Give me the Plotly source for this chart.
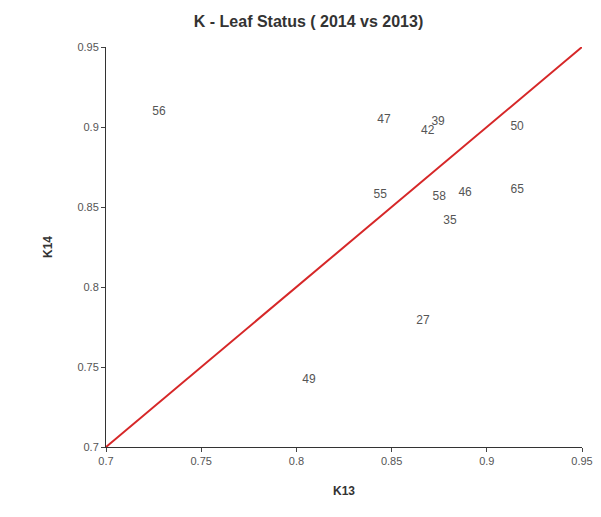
import plotly.graph_objects as go

labels = ["56", "47", "39", "42", "50", "55", "58", "46", "65", "35", "27", "49"]
k13 = [0.7278, 0.846, 0.8744, 0.869, 0.9159, 0.844, 0.875, 0.8886, 0.916, 0.8807, 0.8665, 0.8066]
k14 = [0.9094, 0.9044, 0.903, 0.8975, 0.900, 0.8575, 0.856, 0.859, 0.8606, 0.8413, 0.779, 0.7419]
line_x = [0.7, 0.95]
line_y = [0.7, 0.95]
ticks = [0.7, 0.75, 0.8, 0.85, 0.9, 0.95]
tick_text = ["0.7", "0.75", "0.8", "0.85", "0.9", "0.95"]

fig = go.Figure()
fig.add_trace(go.Scatter(x=line_x, y=line_y, mode="lines",
                         line=dict(color="#d62728", width=2), hoverinfo="skip"))
fig.add_trace(go.Scatter(x=k13, y=k14, mode="text", text=labels,
                         textfont=dict(family="Arial, Liberation Sans", size=12, color="#555")))
fig.update_layout(
    width=601, height=517, showlegend=False,
    paper_bgcolor="white", plot_bgcolor="white",
    margin=dict(l=98, r=27, t=39, b=78, pad=0),
    title=dict(text="<b>K - Leaf Status ( 2014 vs 2013)</b>", x=0.5, xanchor="center",
               y=0.975, yanchor="middle", font=dict(family="Arial, Liberation Sans", size=16, color="#333"),
               automargin=False),
    font=dict(family="Arial, Liberation Sans"),
)
common = dict(range=[0.7, 0.95], tickvals=ticks, ticktext=tick_text, automargin=False,
              showgrid=False, zeroline=False, showline=True, linecolor="#333",
              ticks="outside", ticklen=4, tickfont=dict(size=11, color="#555"))
fig.update_xaxes(**common, title=dict(text="<b>K13</b>", font=dict(size=12, color="#333"), standoff=20))
fig.update_yaxes(**common, title=dict(text="<b>K14</b>", font=dict(size=12, color="#333"), standoff=22))
fig.write_html("out.html")
